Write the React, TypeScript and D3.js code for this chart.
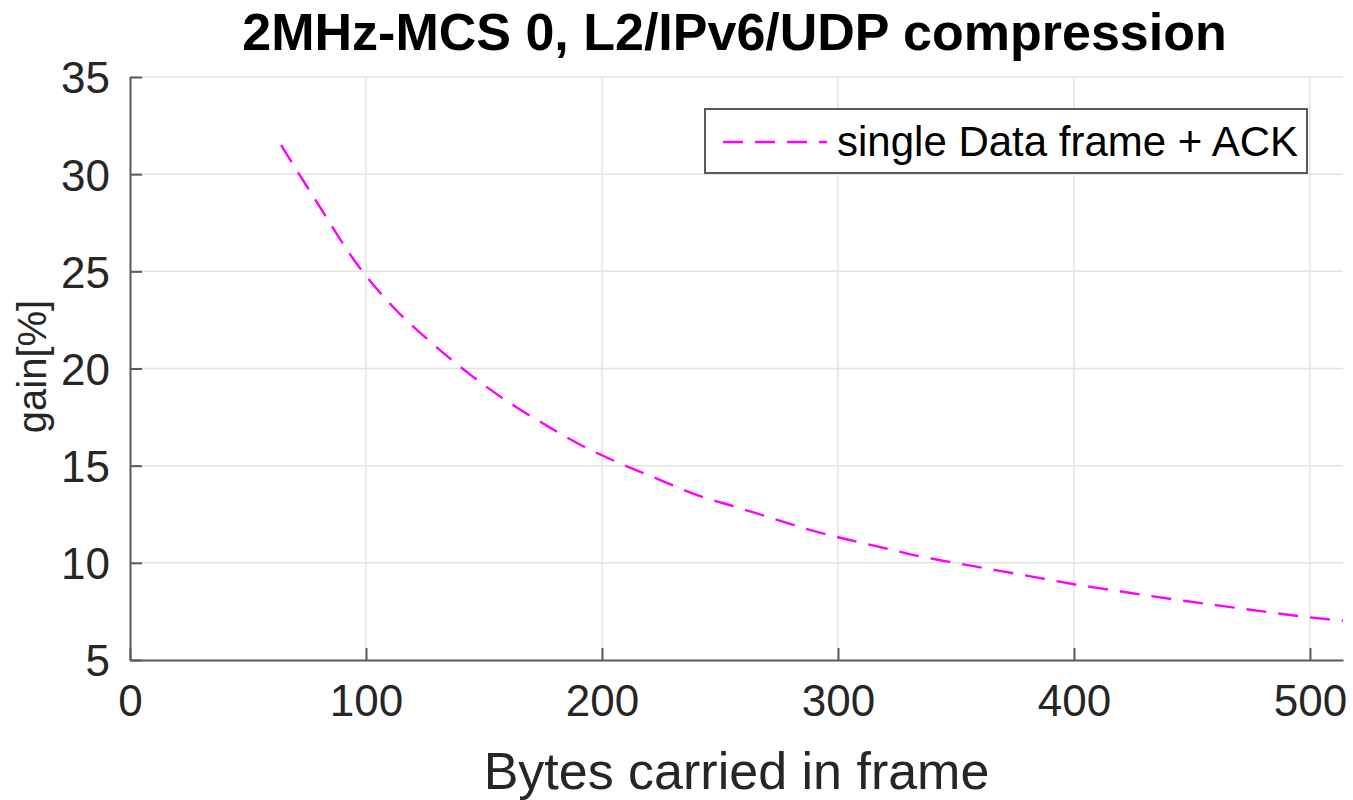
import React, { useEffect, useRef } from 'react';
import * as d3 from 'd3';

// frame payload size (bytes) and header compression gain (%)
const bytes = [64, 80, 96, 112, 128, 144, 160, 176, 192, 208, 224, 240, 256, 272, 288, 304, 320, 336, 352, 368, 384, 400, 416, 432, 448, 464, 480, 496, 514];
const gain = [31.5, 28.4, 25.4, 23.1, 21.3, 19.7, 18.3, 17.1, 16.0, 15.1, 14.3, 13.5, 12.9, 12.3, 11.7, 11.2, 10.75, 10.3, 9.95, 9.6, 9.25, 8.9, 8.6, 8.3, 8.02, 7.76, 7.5, 7.25, 7.02];
const xTicks = [0, 100, 200, 300, 400, 500];
const yTicks = [5, 10, 15, 20, 25, 30, 35];
const seriesName = 'single Data frame + ACK';
const title = '2MHz-MCS 0, L2/IPv6/UDP compression';
const xLabel = 'Bytes carried in frame';
const yLabel = 'gain[%]';

const App = () => {
	const chartRef = useRef<SVGSVGElement>(null);

	useEffect(() => {
		if (!chartRef.current) return;
		const W = 1353, H = 800;
		const margin = { top: 77, right: 10, bottom: 140, left: 130 };
		const width = W - margin.left - margin.right;
		const height = H - margin.top - margin.bottom;
		const font = '"Liberation Sans", Arial, Helvetica, sans-serif';
		const axisColor = '#5a5a5a';
		const textColor = '#262626';

		const root = d3.select(chartRef.current);
		root.selectAll('*').remove();

		const svg = root.append('g').attr('transform', `translate(${margin.left},${margin.top})`);

		const x = d3.scaleLinear().domain([0, 514]).range([0, width]);
		const y = d3.scaleLinear().domain([5, 35]).range([height, 0]);

		// grid
		svg.append('g').selectAll('line').data(xTicks.filter(d => d > 0)).join('line')
			.attr('x1', d => x(d)).attr('x2', d => x(d))
			.attr('y1', 0).attr('y2', height)
			.attr('stroke', '#e3e3e3').attr('stroke-width', 1.5);
		svg.append('g').selectAll('line').data(yTicks.filter(d => d > 5)).join('line')
			.attr('x1', 0).attr('x2', width)
			.attr('y1', d => y(d)).attr('y2', d => y(d))
			.attr('stroke', '#e3e3e3').attr('stroke-width', 1.5);

		// series
		const line = d3.line<number>()
			.x((d, i) => x(bytes[i]))
			.y(d => y(d))
			.curve(d3.curveMonotoneX);
		svg.append('path')
			.datum(gain)
			.attr('fill', 'none')
			.attr('stroke', '#ff00ff')
			.attr('stroke-width', 2.4)
			.attr('stroke-dasharray', '20,12')
			.attr('d', line);

		// axes (MATLAB style, box off, ticks inward)
		const xAxis = svg.append('g')
			.attr('transform', `translate(0,${height})`)
			.call(d3.axisBottom(x).tickValues(xTicks).tickSizeInner(-12).tickSizeOuter(0).tickPadding(24));
		const yAxis = svg.append('g')
			.call(d3.axisLeft(y).tickValues(yTicks).tickSizeInner(-12).tickSizeOuter(0).tickPadding(20));
		[xAxis, yAxis].forEach(a => {
			a.select('.domain').attr('stroke', axisColor).attr('stroke-width', 2);
			a.selectAll('.tick line').attr('stroke', axisColor).attr('stroke-width', 2);
			a.selectAll('.tick text')
				.style('font-family', font)
				.style('font-size', '44px')
				.attr('fill', textColor);
		});
		yAxis.selectAll('.tick text').attr('dy', '0.36em');
		xAxis.selectAll('.tick text').attr('dy', '0.72em');

		// title and labels
		root.append('text')
			.attr('x', margin.left + width / 2 - 2)
			.attr('y', 50)
			.attr('text-anchor', 'middle')
			.style('font-family', font)
			.style('font-size', '52px')
			.style('font-weight', 'bold')
			.attr('fill', '#000')
			.text(title);

		root.append('text')
			.attr('x', margin.left + width / 2)
			.attr('y', 789)
			.attr('text-anchor', 'middle')
			.style('font-family', font)
			.style('font-size', '52px')
			.attr('fill', textColor)
			.text(xLabel);

		root.append('text')
			.attr('transform', `translate(46,${margin.top + height / 2 - 2}) rotate(-90)`)
			.attr('text-anchor', 'middle')
			.style('font-family', font)
			.style('font-size', '40px')
			.attr('fill', textColor)
			.text(yLabel);

		// legend
		const legend = root.append('g').attr('transform', 'translate(705,109)');
		legend.append('rect')
			.attr('width', 602).attr('height', 64)
			.attr('fill', '#fff')
			.attr('stroke', axisColor).attr('stroke-width', 2);
		legend.append('line')
			.attr('x1', 18).attr('x2', 122)
			.attr('y1', 33).attr('y2', 33)
			.attr('stroke', '#ff00ff').attr('stroke-width', 2.4)
			.attr('stroke-dasharray', '20,12');
		legend.append('text')
			.attr('x', 132).attr('y', 47)
			.style('font-family', font)
			.style('font-size', '42px')
			.attr('fill', '#000')
			.text(seriesName);
	}, []);

	return (
		<div style={{ position: 'absolute', left: 0, top: 0, background: '#fff' }}>
			<svg ref={chartRef} width={1353} height={800} />
		</div>
	);
};

export default App;
